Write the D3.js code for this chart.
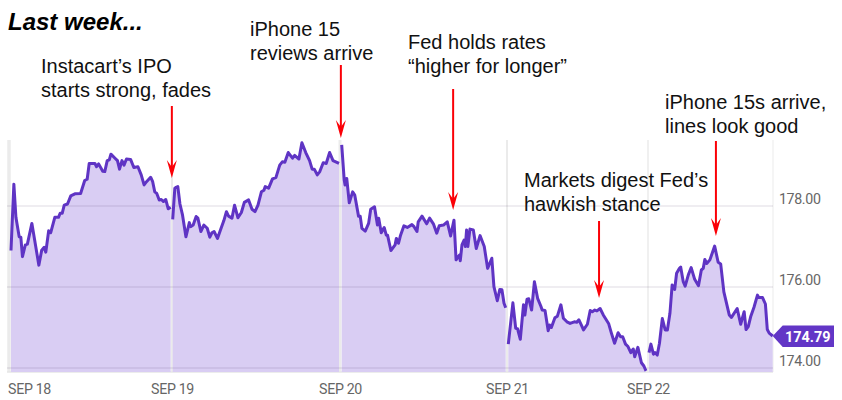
<!DOCTYPE html>
<html>
<head>
<meta charset="utf-8">
<script src="https://cdn.jsdelivr.net/npm/d3@7"></script>
<style>
  html, body { margin: 0; padding: 0; background: #fff; }
  .note { font-family: "Liberation Sans", sans-serif; font-size: 20px; fill: #111; }
  .title { font-family: "Liberation Sans", sans-serif; font-size: 24px; font-weight: bold; font-style: italic; fill: #000; }
  .axis text { font-family: Roboto, sans-serif; font-size: 14.2px; letter-spacing: -0.35px; fill: #666; }
  .axis line, .axis path { display: none; }
</style>
</head>
<body>
<div class="container"></div>
<script>
const WIDTH = 842;
const HEIGHT = 400;

// minutes since the open and price, one pair of lists per session
const sep18Minutes = [0,7,12,20,24,28,35,40,51,68,75,81,85,92,97,107,116,120,125,130,138,146,156,170,180,186,191,205,209,214,224,229,235,240,244,254,260,265,271,276,282,292,300,310,318,325,331,341,346,351,356,362,367,372,378,384,390];
const sep18Prices = [176.90,178.54,177.72,177.24,177.23,176.75,177.04,177.06,177.57,176.54,176.91,176.98,176.86,177.39,177.34,177.72,177.72,177.82,177.82,178.02,178.05,178.25,178.30,178.31,178.63,178.66,179.05,179.05,178.97,179.04,178.86,178.85,179.12,179.14,179.28,179.18,179.12,178.91,179.12,179.01,179.16,179.15,178.95,178.97,178.77,178.52,178.60,178.71,178.60,178.35,178.31,178.15,178.16,178.11,178.16,177.93,177.97];

const sep19Minutes = [0,5,8,12,17,23,31,39,42,48,55,59,66,73,81,87,92,97,105,112,120,126,131,139,145,153,161,168,178,186,193,200,208,214,217,225,234,242,251,257,263,271,281,286,296,303,312,321,327,332,339,345,353,360,368,376,390];
const sep19Prices = [177.67,178.44,178.46,178.48,178.05,177.78,177.24,177.59,177.49,177.53,177.74,177.70,177.37,177.53,177.45,177.23,177.34,177.37,177.20,177.41,177.64,177.86,177.75,177.70,178.02,177.71,177.84,178.09,178.15,177.92,177.86,178.02,178.35,178.39,178.48,178.44,178.67,178.70,179.01,179.09,179.08,179.32,179.18,179.25,179.16,179.56,179.32,179.12,178.91,178.91,178.77,178.85,179.07,179.05,179.32,179.12,179.05];

const sep20Minutes = [0,6,8,12,18,26,31,40,44,48,56,64,69,78,85,88,94,101,106,109,117,127,130,135,140,148,156,167,172,179,182,191,202,209,218,226,232,242,251,259,267,272,280,282,286,291,294,297,300,305,313,320,329,339,347,357,362,370,376,381,386,390];
const sep20Prices = [179.51,178.64,178.52,178.68,178.08,178.35,178.27,177.75,177.75,177.45,177.38,177.57,177.92,177.98,177.53,177.70,177.34,177.47,177.28,177.28,176.90,177.04,177.20,177.08,177.28,177.51,177.47,177.54,177.49,177.37,177.61,177.75,177.56,177.70,177.56,177.33,177.51,177.53,177.61,177.26,177.65,176.67,176.79,176.65,177.04,177.16,177.00,177.41,177.00,177.43,177.41,176.95,177.27,177.00,176.46,176.71,176.01,175.66,175.94,175.93,175.60,175.49];

const sep21Minutes = [0,13,21,26,34,43,47,53,58,66,74,83,92,96,104,113,117,122,132,139,149,156,166,175,187,194,200,207,213,224,232,238,245,251,260,269,284,292,301,311,318,324,332,339,347,354,358,367,377,384,390];
const sep21Prices = [174.59,175.61,174.98,174.97,174.71,175.56,175.31,175.70,175.71,175.43,176.13,175.72,175.53,175.43,175.42,174.92,175.06,175.00,175.24,175.28,175.56,175.23,175.14,175.10,175.14,175.13,175.19,175.06,174.94,175.08,175.42,175.39,175.43,175.41,175.47,175.31,175.10,174.86,174.61,174.87,174.77,174.77,174.59,174.53,174.38,174.47,174.28,174.51,174.13,174.05,173.93];

const sep22Minutes = [0,6,14,19,26,33,42,51,58,66,73,81,87,96,100,108,114,124,133,144,156,165,171,176,182,192,207,218,226,236,253,260,278,289,300,306,313,321,331,342,346,358,367,373,379,390];
const sep22Prices = [174.38,174.59,174.34,174.38,174.32,174.61,175.22,174.94,174.94,175.35,176.05,175.94,176.34,176.46,176.49,176.13,176.02,176.30,176.48,176.19,176.03,176.42,176.46,176.68,176.58,176.67,177.01,176.61,176.57,175.88,175.31,175.25,175.47,175.08,175.39,174.95,175.02,175.28,175.50,175.80,175.74,175.74,175.58,174.95,174.86,174.79];

const dayLabels = ['SEP 18', 'SEP 19', 'SEP 20', 'SEP 21', 'SEP 22'];
const priceTicks = [174, 176, 178];
const lastPrice = 174.79;

// annotations: session index, minute and price the arrow points at
const noteLines = [
    ['Instacart\u2019s IPO', 'starts strong, fades'],
    ['iPhone 15', 'reviews arrive'],
    ['Fed holds rates', '\u201chigher for longer\u201d'],
    ['Markets digest Fed\u2019s', 'hawkish stance'],
    ['iPhone 15s arrive,', 'lines look good']
];
const noteSessions = [1, 2, 2, 3, 4];
const noteMinutes = [-2, -2, 265, 257, 211];
const notePrices = [178.69, 179.68, 177.90, 175.73, 177.26];

// layout
const NOTE_X = [41, 250, 408, 524, 665];
const NOTE_Y = [73, 36, 49, 187, 109];
const NOTE_TAIL_Y = [106, 65, 89, 221, 141];
const OPEN_X = [11, 172.7, 341.7, 508.3, 649];
const CLOSE_X = [170.7, 339, 505.7, 646, 772.7];
const TICK_X = [29, 172, 340, 507, 648];
const RULE_X = [9, 172, 340, 507, 648, 773];
const RULE_W = [3.5, 2, 3, 2, 1.5, 1];
const PLOT_LEFT = 7;
const PLOT_RIGHT = 773;
const PLOT_TOP = 140;
const PLOT_BOTTOM = 372;

const sessions = [
    {minutes: sep18Minutes, prices: sep18Prices},
    {minutes: sep19Minutes, prices: sep19Prices},
    {minutes: sep20Minutes, prices: sep20Prices},
    {minutes: sep21Minutes, prices: sep21Prices},
    {minutes: sep22Minutes, prices: sep22Prices}
];

var translate = function (x, y) {
    return "translate(" + x + "," + y + ")";
};

var svg = d3.select('.container').append('svg')
    .attr('width', WIDTH)
    .attr('height', HEIGHT)
    .style('display', 'block');

var yScale = d3.scaleLinear()
    .domain([174, 178])
    .range([368, 206]);

var xScaleFor = function (i) {
    return d3.scaleLinear().domain([0, 390]).range([OPEN_X[i], CLOSE_X[i]]);
};

// vertical day rules
svg.append('g').selectAll('line')
    .data(RULE_X)
    .enter().append('line')
    .attr('x1', function (d) { return d; })
    .attr('x2', function (d) { return d; })
    .attr('y1', PLOT_TOP)
    .attr('y2', PLOT_BOTTOM)
    .attr('stroke', '#ebebeb')
    .attr('stroke-width', function (d, i) { return RULE_W[i]; });

svg.append('line')
    .attr('x1', PLOT_LEFT).attr('x2', PLOT_RIGHT)
    .attr('y1', PLOT_BOTTOM).attr('y2', PLOT_BOTTOM)
    .attr('stroke', '#e6e6e6')
    .attr('stroke-width', 1.5);

// one area and line per session, the line breaks overnight
sessions.forEach(function (s, i) {
    var x = xScaleFor(i);
    var points = d3.zip(s.minutes, s.prices);
    var area = d3.area()
        .x(function (d) { return x(d[0]); })
        .y0(PLOT_BOTTOM)
        .y1(function (d) { return yScale(d[1]); });
    var line = d3.line()
        .x(function (d) { return x(d[0]); })
        .y(function (d) { return yScale(d[1]); });

    svg.append('path')
        .attr('d', area(points))
        .attr('fill', '#d9cdf3');
    s.line = line(points);
});

// grid goes over the fill but under the line
svg.append('g').selectAll('line')
    .data(priceTicks)
    .enter().append('line')
    .attr('x1', PLOT_LEFT)
    .attr('x2', PLOT_RIGHT)
    .attr('y1', function (d) { return yScale(d); })
    .attr('y2', function (d) { return yScale(d); })
    .attr('stroke', 'rgba(60,40,90,0.11)')
    .attr('stroke-width', 1.5);

sessions.forEach(function (s) {
    svg.append('path')
        .attr('d', s.line)
        .attr('fill', 'none')
        .attr('stroke', '#5f34c4')
        .attr('stroke-width', 3)
        .attr('stroke-linejoin', 'round');
});

// axes
var yAxis = d3.axisRight(yScale)
    .tickValues(priceTicks)
    .tickFormat(d3.format('.2f'))
    .tickSize(0)
    .tickPadding(0);

svg.append('g')
    .attr('class', 'axis')
    .attr('transform', translate(779, -7))
    .call(yAxis);

var xAxis = d3.axisBottom(d3.scaleOrdinal().domain(dayLabels).range(TICK_X))
    .tickSize(0)
    .tickPadding(0);

svg.append('g')
    .attr('class', 'axis')
    .attr('transform', translate(0, 384))
    .call(xAxis);

// last price flag
var flagY = yScale(lastPrice);
svg.append('path')
    .attr('d', d3.line()([[772.7, flagY], [782.7, flagY - 10.5], [834, flagY - 10.5], [834, flagY + 11], [782.7, flagY + 11]]) + 'Z')
    .attr('fill', '#6236c6');

svg.append('text')
    .attr('x', 785)
    .attr('y', flagY + 5.5)
    .attr('font-family', 'Roboto, sans-serif')
    .attr('font-size', 14.4)
    .attr('font-weight', 'bold')
    .attr('fill', '#fff')
    .text(d3.format('.2f')(lastPrice));

// annotations
noteLines.forEach(function (lines, i) {
    var x = xScaleFor(noteSessions[i])(noteMinutes[i]);
    var tip = yScale(notePrices[i]);

    svg.append('line')
        .attr('x1', x).attr('x2', x)
        .attr('y1', NOTE_TAIL_Y[i]).attr('y2', tip - 8)
        .attr('stroke', '#fb0007')
        .attr('stroke-width', 2);

    svg.append('path')
        .attr('d', d3.line()([[x, tip], [x - 5, tip - 18], [x, tip - 11], [x + 5, tip - 18]]) + 'Z')
        .attr('fill', '#fb0007');

    lines.forEach(function (t, j) {
        svg.append('text')
            .attr('class', 'note')
            .attr('x', NOTE_X[i])
            .attr('y', NOTE_Y[i] + j * 24)
            .text(t);
    });
});

svg.append('text')
    .attr('class', 'title')
    .attr('x', 8)
    .attr('y', 30)
    .text('Last week...');
</script>
</body>
</html>
